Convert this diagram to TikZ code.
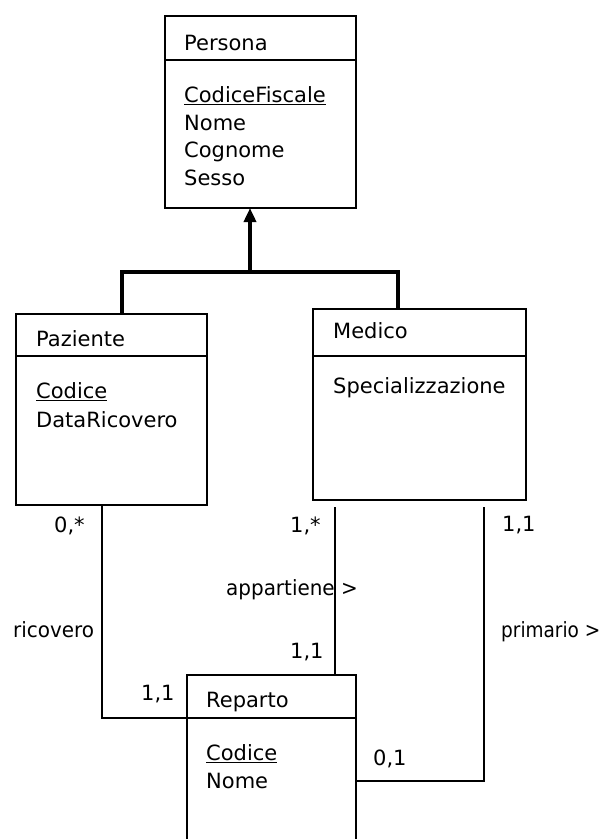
\documentclass[tikz,border=0pt]{standalone}
\usepackage{fontspec}
\setmainfont{DejaVu Sans}
\usetikzlibrary{arrows.meta}
\tikzset{
  box/.style={draw, line width=1.4pt, anchor=north west, inner sep=0pt, outer sep=0pt},
  txt/.style={inner sep=0pt, anchor=base west, font=\fontsize{21}{24}\selectfont},
  conn/.style={line width=1.4pt},
  gen/.style={line width=4pt},
}
\begin{document}
\begin{tikzpicture}[x=1pt,y=-1pt]
\clip (0,0) rectangle (605,839);
\fill[white] (0,0) rectangle (605,839);
% Persona
\node[box, minimum width=191pt, minimum height=44pt] (pershead) at (165,16) {};
\node[box, minimum width=191pt, minimum height=148pt] (persbody) at (165,60) {};
\node[txt] (tpers) at (184,50) {Persona};
\node[txt] (tcf) at (184,102) {\underline{CodiceFiscale}};
\node[txt] (tnome) at (184,130) {Nome};
\node[txt] (tcog) at (184,157) {Cognome};
\node[txt] (tsesso) at (184,185) {Sesso};
% Paziente
\node[box, minimum width=191pt, minimum height=42pt] (pazhead) at (16,314) {};
\node[box, minimum width=191pt, minimum height=149pt] (pazbody) at (16,356) {};
\node[txt] (tpaz) at (36,346) {Paziente};
\node[txt] (tpcod) at (36,398) {\underline{Codice}};
\node[txt] (tdata) at (36,427) {DataRicovero};
% Medico
\node[box, minimum width=213pt, minimum height=47pt] (medhead) at (313,309) {};
\node[box, minimum width=213pt, minimum height=144pt] (medbody) at (313,356) {};
\node[txt] (tmed) at (333,338) {Medico};
\node[txt] (tspec) at (333,393) {Specializzazione};
% Reparto
\node[box, minimum width=169pt, minimum height=43pt] (rephead) at (187,675) {};
\node[box, minimum width=169pt, minimum height=170pt] (repbody) at (187,718) {};
\node[txt] (trep) at (206,707) {Reparto};
\node[txt] (trcod) at (206,760) {\underline{Codice}};
\node[txt] (trnome) at (206,788) {Nome};
% generalization
\coordinate (gl) at (122,0);
\coordinate (gr) at (398,0);
\coordinate (bar) at (250,272);
\draw[gen] (pazhead.north -| gl) |- (bar) -| (medhead.north -| gr);
\draw[gen, -{Triangle[width=12pt,length=14pt]}] (bar) -- (persbody.south -| bar);
% associations
\coordinate (rx) at (102,0);
\coordinate (ax) at (335,0);
\coordinate (px) at (484,0);
\coordinate (py) at (0,781);
\draw[conn] (pazbody.south -| rx) |- (rephead.south west);
\draw[conn] ([yshift=-7pt]medbody.south -| ax) -- (rephead.north -| ax);
\draw[conn] ([yshift=-7pt]medbody.south -| px) |- (repbody.east |- py);
% labels
\node[txt] (l1) at (54,532) {0,*};
\node[txt] (l2) at (290,532) {1,*};
\node[txt] (l3) at (502,531) {1,1};
\node[txt] (l4) at (226,595) {\scalebox{0.95}[1]{appartiene >}};
\node[txt] (l5) at (13,637) {\scalebox{0.95}[1]{ricovero}};
\node[txt] (l6) at (501,637) {\scalebox{0.88}[1]{primario >}};
\node[txt] (l7) at (290,658) {1,1};
\node[txt] (l8) at (141,700) {1,1};
\node[txt] (l9) at (373,765) {0,1};
\end{tikzpicture}
\end{document}
